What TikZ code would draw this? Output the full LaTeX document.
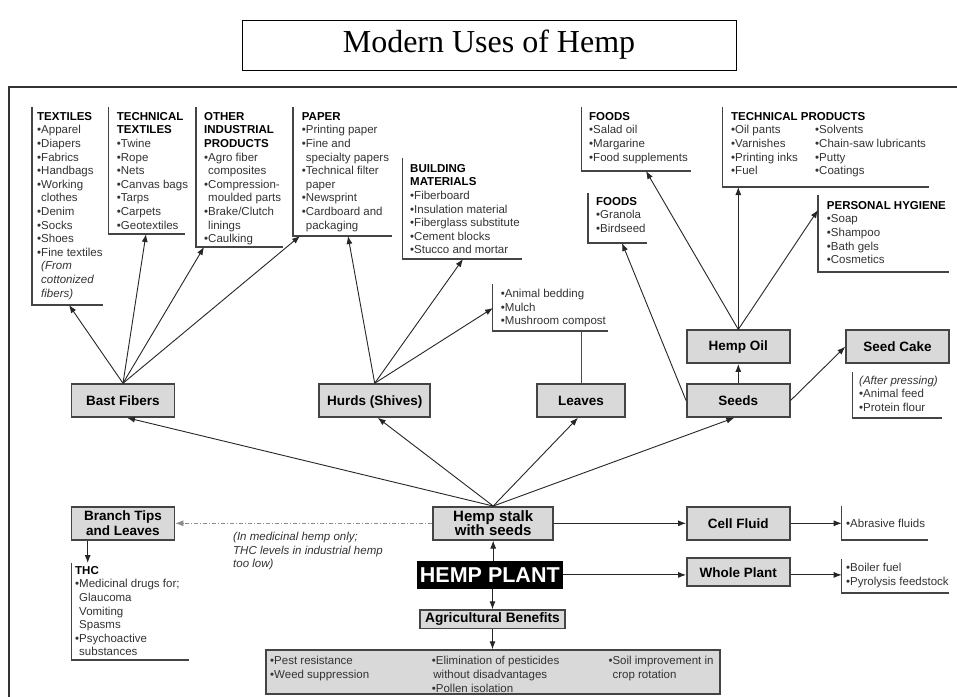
\documentclass[tikz,border=0pt]{standalone}
\usepackage{fontspec}
\setmainfont{Liberation Sans}
\newfontfamily\titlefont{Liberation Serif}
\usetikzlibrary{arrows.meta}
\definecolor{boxgray}{HTML}{D9D9D9}
\definecolor{itemcol}{HTML}{333333}
\definecolor{linecol}{HTML}{444444}
\newcommand{\hd}[1]{\textbf{\color{black}#1}}
\newcommand{\ind}{\phantom{•}}
\newcommand{\fs}{\rule{0pt}{9.5pt}}
\begin{document}
\begin{tikzpicture}[x=1pt,y=-1pt,
  gbox/.style={draw=linecol, line width=1.5pt, fill=boxgray, inner sep=2pt, align=center,
    font=\fontsize{13.5}{14.3}\selectfont\bfseries},
  lst/.style={anchor=north west, inner sep=0pt, align=left, text=itemcol,
    font=\fontsize{11.5}{13.6}\selectfont},
  brk/.style={draw=linecol, line width=1.4pt},
  arr/.style={draw=black!85, line width=0.9pt, -{Latex[length=8pt,width=6pt]}},
  plain/.style={draw=black!70, line width=0.9pt},
]
\useasboundingbox (0,0) rectangle (957,696);
\fill[white] (0,0) rectangle (957,696);

% outer frame (cut by the page on the right and bottom)
\draw[line width=1.4pt, black!80] (9,705) -- (9,87) -- (965,87);

% title
\node[draw, line width=1pt, minimum width=494, minimum height=50, inner sep=0pt,
  font=\titlefont\fontsize{32}{34}\selectfont] (title) at (489,45) {Modern Uses of Hemp};

% ---------- bracket boxes (lists) ----------
\node[lst] (textiles) at (37,110.5) {\fs\hd{TEXTILES}\\•Apparel\\•Diapers\\•Fabrics\\•Handbags\\•Working\\\ind clothes\\•Denim\\•Socks\\•Shoes\\•Fine textiles\\\ind\textit{(From}\\\ind\textit{cottonized}\\\ind\textit{fibers)}};
\draw[brk] (32,107) -- (32,305) -- (103,305);

\node[lst] (techtex) at (116.7,110.5) {\fs\hd{TECHNICAL}\\\hd{TEXTILES}\\•Twine\\•Rope\\•Nets\\•Canvas bags\\•Tarps\\•Carpets\\•Geotextiles};
\draw[brk] (108.3,107) -- (108.3,234) -- (185,234);

\node[lst] (otherind) at (204,110.5) {\fs\hd{OTHER}\\\hd{INDUSTRIAL}\\\hd{PRODUCTS}\\•Agro fiber\\\ind composites\\•Compression-\\\ind moulded parts\\•Brake/Clutch\\\ind linings\\•Caulking};
\draw[brk] (196,107) -- (196,247) -- (283,247);

\node[lst] (paper) at (301.7,110.5) {\fs\hd{PAPER}\\•Printing paper\\•Fine and\\\ind specialty papers\\•Technical filter\\\ind paper\\•Newsprint\\•Cardboard and\\\ind packaging};
\draw[brk] (293,107) -- (293,236) -- (392,236);

\node[lst] (building) at (410,162.5) {\fs\hd{BUILDING}\\\hd{MATERIALS}\\•Fiberboard\\•Insulation material\\•Fiberglass substitute\\•Cement blocks\\•Stucco and mortar};
\draw[brk] (402.7,158) -- (402.7,259) -- (521.7,259);

\node[lst] (bedding) at (500.7,288) {\fs•Animal bedding\\•Mulch\\•Mushroom compost};
\draw[brk] (492.7,284) -- (492.7,331) -- (608,331);

\node[lst] (foods1) at (589,110.5) {\fs\hd{FOODS}\\•Salad oil\\•Margarine\\•Food supplements};
\draw[brk] (581.7,107) -- (581.7,171) -- (690.7,171);

\node[lst] (foods2) at (596,195.5) {\fs\hd{FOODS}\\•Granola\\•Birdseed};
\draw[brk] (588,193) -- (588,243) -- (647,243);

\node[lst] (techprod) at (731,110.5) {\fs\hd{TECHNICAL PRODUCTS}\\•Oil pants\\•Varnishes\\•Printing inks\\•Fuel};
\node[lst] (techprod2) at (815,124.1) {\fs•Solvents\\•Chain-saw lubricants\\•Putty\\•Coatings};
\draw[brk] (722.7,107) -- (722.7,187) -- (929,187);

\node[lst] (hygiene) at (826.7,199.5) {\fs\hd{PERSONAL HYGIENE}\\•Soap\\•Shampoo\\•Bath gels\\•Cosmetics};
\draw[brk] (818,195) -- (818,272) -- (949,272);

\node[lst] (caketext) at (859,374.5) {\fs\textit{(After pressing)}\\•Animal feed\\•Protein flour};
\draw[brk] (852.7,372) -- (852.7,418) -- (941.7,418);

\node[lst] (thc) at (75,564.5) {\fs\hd{THC}\\•Medicinal drugs for;\\\ind Glaucoma\\\ind Vomiting\\\ind Spasms\\•Psychoactive\\\ind substances};
\draw[brk] (71.7,563) -- (71.7,660) -- (189,660);

\node[lst] (abrasive) at (846,517.5) {\fs•Abrasive fluids};
\draw[brk] (841.7,506) -- (841.7,540) -- (928,540);

\node[lst] (boiler) at (846,562) {\fs•Boiler fuel\\•Pyrolysis feedstock};
\draw[brk] (841.7,559) -- (841.7,593) -- (949,593);

\node[lst, font=\fontsize{11.5}{13.6}\selectfont\itshape] (note) at (233,531) {\fs(In medicinal hemp only;\\THC levels in industrial hemp\\too low)};

% ---------- grey boxes ----------
\node[gbox, minimum width=103, minimum height=33] (bast) at (123,400.5) {Bast Fibers};
\node[gbox, minimum width=111, minimum height=33, text depth=0pt] (hurds) at (374.7,400.5) {Hurds (Shives)};
\node[gbox, minimum width=88, minimum height=33] (leaves) at (581,400.5) {Leaves};
\node[gbox, minimum width=103, minimum height=33] (seeds) at (738.3,400.5) {Seeds};
\node[gbox, minimum width=103, minimum height=33] (oil) at (738.3,346.7) {Hemp Oil};
\node[gbox, minimum width=103, minimum height=33] (cake) at (897.5,346.7) {Seed Cake};
\node[gbox, minimum width=103, minimum height=33] (branch) at (123,523.3) {Branch Tips\\and Leaves};
\node[gbox, minimum width=120, minimum height=33, font=\fontsize{15}{14.5}\selectfont\bfseries] (stalk) at (493.2,523.3) {Hemp stalk\\with seeds};
\node[gbox, minimum width=103, minimum height=33] (cell) at (738.3,523.3) {Cell Fluid};
\node[gbox, minimum width=103, minimum height=28] (whole) at (738.3,572.2) {Whole Plant};
\node[fill=black, text=white, font=\fontsize{21.5}{22}\selectfont\bfseries, minimum width=146, minimum height=28, inner sep=1pt] (plant) at (489.8,574.9) {HEMP PLANT};
\node[gbox, minimum width=145, minimum height=18.3, inner sep=1pt, font=\fontsize{13.7}{14}\selectfont\bfseries] (agri) at (492.5,619.2) {Agricultural Benefits};

\node[draw=linecol, line width=1.4pt, fill=boxgray, minimum width=454, minimum height=44, inner sep=0pt] (ben) at (493,672) {};
\node[lst] (ben1) at (270,655.2) {\fs•Pest resistance\\•Weed suppression};
\node[lst] (ben2) at (431.7,655.2) {\fs•Elimination of pesticides\\\hspace*{1.5pt}without disadvantages\\•Pollen isolation};
\node[lst] (ben3) at (608.3,655.2) {\fs•Soil improvement in\\\ind crop rotation};

% ---------- arrow end points on the list boxes ----------
\coordinate (texT) at (69,305);
\coordinate (ttT) at (146,234);
\coordinate (oiT) at (204,247);
\coordinate (papT1) at (300,236);
\coordinate (papT2) at (348,236);
\coordinate (bldT) at (463,259);
\coordinate (bedT) at (493,308);
\coordinate (bedB) at (581,331);
\coordinate (fd1T) at (646,171);
\coordinate (tpT) at (738.3,187);
\coordinate (hygT) at (818,210);
\coordinate (fd2T) at (622,243);
\coordinate (thcT) at (87.7,563);
\coordinate (abrT) at (841.7,523.3);
\coordinate (boiT) at (841.7,574.9);

% ---------- connectors ----------
\draw[arr] (bast.north) -- (texT);
\draw[arr] (bast.north) -- (ttT);
\draw[arr] (bast.north) -- (oiT);
\draw[arr] (bast.north) -- (papT1);
\draw[arr] (hurds.north) -- (papT2);
\draw[arr] (hurds.north) -- (bldT);
\draw[arr] (hurds.north) -- (bedT);
\draw[plain] (leaves.north) -- (bedB);
\draw[arr] (oil.north) -- (fd1T);
\draw[arr] (oil.north) -- (tpT);
\draw[arr] (oil.north) -- (hygT);
\draw[arr] (seeds.west) -- (fd2T);
\draw[arr] (seeds.north) -- (oil.south);
\draw[arr] (seeds.east) -- (cake.west);

\draw[arr] (stalk.north) -- ([xshift=4pt]bast.south);
\draw[arr] (stalk.north) -- ([xshift=3pt]hurds.south);
\draw[arr] (stalk.north) -- ([xshift=-3pt]leaves.south);
\draw[arr] (stalk.north) -- ([xshift=-4pt]seeds.south);

\draw[arr, draw=black!45, dash pattern=on 4pt off 2pt on 1pt off 2pt] (stalk.west) -- (branch.east);
\draw[arr] (branch.south -| thcT) -- (thcT);
\draw[arr] (plant.north -| stalk.south) -- (stalk.south);
\draw[arr] (plant.south -| agri.north) -- (agri.north);
\draw[arr] (agri.south) -- (agri.south |- ben.north);
\draw[arr] (stalk.east) -- (cell.west);
\draw[arr] (cell.east) -- (abrT);
\draw[arr] (plant.east) -- (plant.east -| whole.west);
\draw[arr] (whole.east |- plant.east) -- (boiT);
\end{tikzpicture}
\end{document}
